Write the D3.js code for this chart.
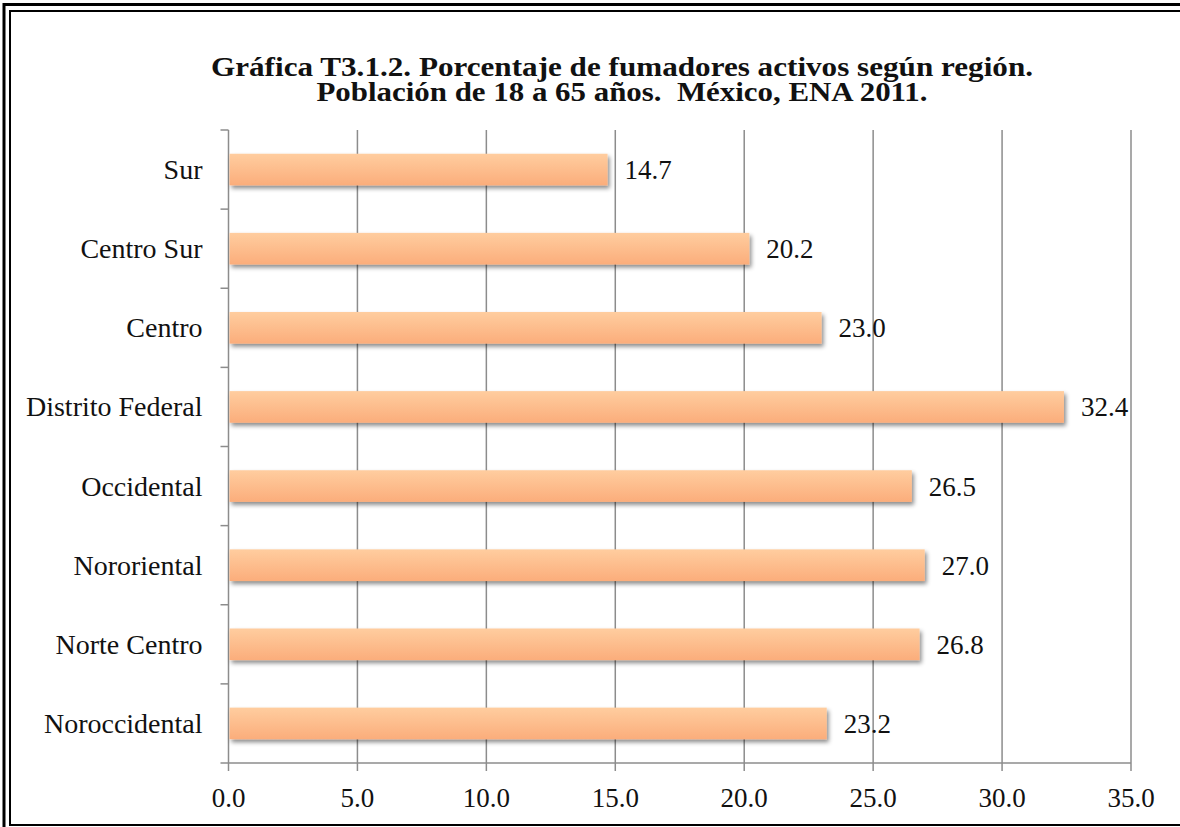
<!DOCTYPE html>
<html>
<head>
<meta charset="utf-8">
<script src="https://cdn.jsdelivr.net/npm/d3@7"></script>
<style>
  body { margin:0; background:#fff; }
  text { font-family: "Liberation Serif", "Times New Roman", serif; fill:#111; }
</style>
</head>
<body>
<div id="chart"></div>
<script>
//regions top to bottom as they appear in chart
var regions = ["Sur","Centro Sur","Centro","Distrito Federal","Occidental","Nororiental","Norte Centro","Noroccidental"];
var values = [14.7, 20.2, 23.0, 32.4, 26.5, 27.0, 26.8, 23.2];
var xTicks = [0,5,10,15,20,25,30,35];
var titleLines = ["Gráfica T3.1.2. Porcentaje de fumadores activos según región.",
                  "Población de 18 a 65 años.  México, ENA 2011."];

var width = 1180, height = 827;
var margin = {top:130, left:228.5, right:49, bottom:64};

var svg = d3.select("#chart").append("svg")
    .attr("width", width)
    .attr("height", height);

var defs = svg.append("defs");
var grad = defs.append("linearGradient")
    .attr("id","barGrad")
    .attr("x1",0).attr("y1",0).attr("x2",0).attr("y2",1);
grad.append("stop").attr("offset","0%").attr("stop-color","#ffcd9f");
grad.append("stop").attr("offset","100%").attr("stop-color","#fbad7b");

var shadow = defs.append("filter").attr("id","barShadow")
    .attr("x","-5%").attr("y","-30%").attr("width","110%").attr("height","180%");
shadow.append("feDropShadow")
    .attr("dx",2).attr("dy",3).attr("stdDeviation",2.2)
    .attr("flood-color","#000").attr("flood-opacity",0.45);

//double frame round the chart (runs off right and bottom edges)
svg.append("rect").attr("x",4).attr("y",4.5).attr("width",1250).attr("height",900)
    .attr("fill","none").attr("stroke","#000").attr("stroke-width",3);
svg.append("rect").attr("x",10).attr("y",11).attr("width",1240).attr("height",814)
    .attr("fill","none").attr("stroke","#000").attr("stroke-width",2);

var plotW = width - margin.left - margin.right;
var plotH = height - margin.top - margin.bottom;

var x = d3.scaleLinear().domain([0,35]).range([0, plotW]);
var y = d3.scaleBand().domain(regions).range([0, plotH]).paddingInner(0.6).paddingOuter(0.3);

var g = svg.append("g").attr("transform","translate(" + margin.left + "," + margin.top + ")");

//vertical gridlines
g.selectAll("line.grid").data(xTicks).enter().append("line")
    .attr("class","grid")
    .attr("x1", function (d) { return x(d); })
    .attr("x2", function (d) { return x(d); })
    .attr("y1", 0).attr("y2", plotH)
    .attr("stroke","#8c8c8c").attr("stroke-width",1.5);

//category ticks at band edges
var edges = d3.range(regions.length + 1).map(function (i) { return i * plotH / regions.length; });
g.selectAll("line.ytick").data(edges).enter().append("line")
    .attr("x1",-8).attr("x2",0)
    .attr("y1", function (d) { return d; }).attr("y2", function (d) { return d; })
    .attr("stroke","#8c8c8c").attr("stroke-width",1.5);

//x axis
g.append("line").attr("x1",0).attr("x2",plotW).attr("y1",plotH).attr("y2",plotH)
    .attr("stroke","#8c8c8c").attr("stroke-width",1.5);
g.selectAll("line.xtick").data(xTicks).enter().append("line")
    .attr("x1", function (d) { return x(d); }).attr("x2", function (d) { return x(d); })
    .attr("y1", plotH).attr("y2", plotH + 8)
    .attr("stroke","#8c8c8c").attr("stroke-width",1.5);
g.selectAll("text.xlab").data(xTicks).enter().append("text")
    .attr("x", function (d) { return x(d); })
    .attr("y", plotH + 44)
    .attr("text-anchor","middle")
    .style("font-size","27px")
    .text(function (d) { return d3.format(".1f")(d); });

//bars
g.selectAll("rect.bar").data(values).enter().append("rect")
    .attr("x", 1)
    .attr("y", function (d,i) { return y(regions[i]); })
    .attr("width", function (d) { return x(d) - 1; })
    .attr("height", y.bandwidth())
    .attr("fill","url(#barGrad)")
    .attr("filter","url(#barShadow)");

//value labels
g.selectAll("text.val").data(values).enter().append("text")
    .attr("x", function (d) { return x(d) + 17; })
    .attr("y", function (d,i) { return y(regions[i]) + y.bandwidth()/2 + 9.5; })
    .style("font-size","27px")
    .text(function (d) { return d3.format(".1f")(d); });

//category labels
g.selectAll("text.cat").data(regions).enter().append("text")
    .attr("x", -26)
    .attr("y", function (d) { return y(d) + y.bandwidth()/2 + 9.5; })
    .attr("text-anchor","end")
    .style("font-size","28px")
    .text(function (d) { return d; });

//title - one text with two lines. original font is wider than Liberation bold so stretch it
var titleWidths = [822, 611];
var title = svg.append("text")
    .attr("text-anchor","middle")
    .style("font-size","27px")
    .style("font-weight","bold")
    .style("white-space","pre");
title.selectAll("tspan").data(titleLines).enter().append("tspan")
    .attr("x", 622)
    .attr("y", function (d,i) { return 76 + i*25; })
    .attr("textLength", function (d,i) { return titleWidths[i]; })
    .attr("lengthAdjust","spacingAndGlyphs")
    .text(function (d) { return d; });
</script>
</body>
</html>
